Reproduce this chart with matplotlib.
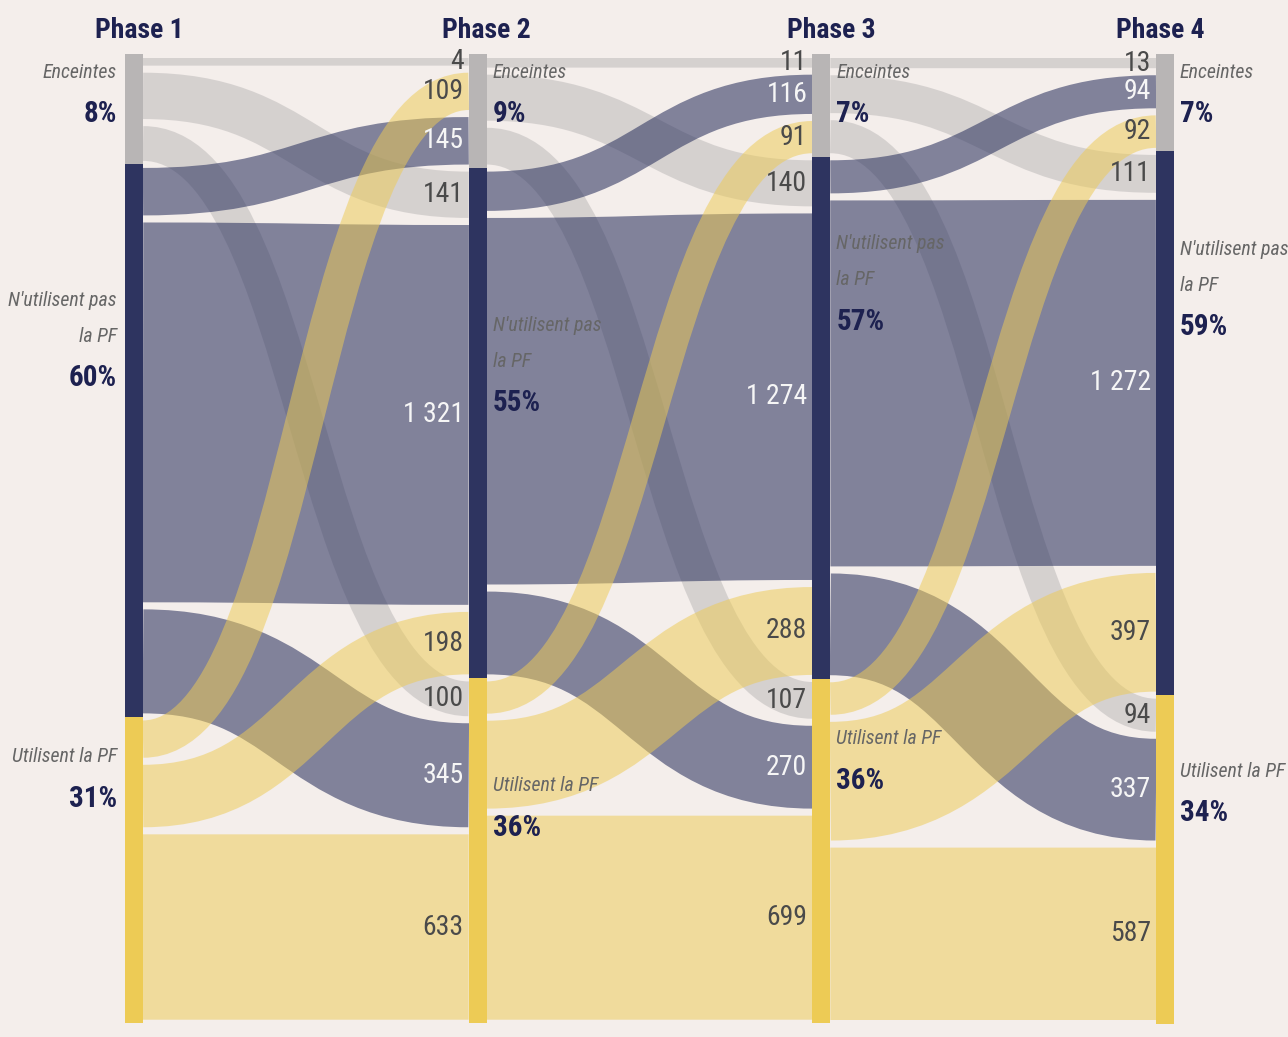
import matplotlib
matplotlib.use("Agg")
import matplotlib.pyplot as plt
import matplotlib.transforms as mtransforms
from matplotlib.path import Path
from matplotlib.patches import PathPatch, Rectangle
from matplotlib import font_manager

# ---------------- data ----------------
phases = ["Phase 1", "Phase 2", "Phase 3", "Phase 4"]
category_names = ["Enceintes", "N'utilisent pas\nla PF", "Utilisent la PF"]
# flows between consecutive phases: rows = source category, cols = target category
flows_p1_p2 = [[4, 141, 100],
               [145, 1321, 345],
               [109, 198, 633]]
flows_p2_p3 = [[11, 140, 107],
               [116, 1274, 270],
               [91, 288, 699]]
flows_p3_p4 = [[13, 111, 94],
               [94, 1272, 337],
               [92, 397, 587]]
percent_p1 = ["8%", "60%", "31%"]
percent_p2 = ["9%", "55%", "36%"]
percent_p3 = ["7%", "57%", "36%"]
percent_p4 = ["7%", "59%", "34%"]
# order (by source category) in which incoming flows are stacked at each target node
incoming_order_p2 = [[0, 2, 1], [0, 1, 2], [0, 1, 2]]
incoming_order_p3 = [[0, 1, 2], [0, 1, 2], [0, 1, 2]]
incoming_order_p4 = [[0, 1, 2], [0, 1, 2], [0, 1, 2]]

# ---------------- style / layout ----------------
BG = "#F4EEEB"
NODE_COLORS = ["#B8B5B5", "#2E3460", "#EDCB55"]
LINK_ALPHA = [0.50, 0.58, 0.52]
LABEL_COLORS = ["#4a4a4a", "#F6F6F6", "#4a4a4a"]
NAVY_TEXT = "#1D2150"
NAME_GREY = "#666666"

FIG_W, FIG_H, DPI = 1288, 1037, 100
TOP_PX, BOTTOM_PX = 58, 1020
X0_PX, DX_PX = 134, 343.67
BAR_PX = 18
LINK_PAD = 23   # extra thickness per link (value units)
GAP = 25        # gap between stacked links (value units)
# vertical position (px below node top) of the first name line, per phase / node
LABEL_OFFSETS = [[18, 136, 40], [18, 157, 108], [18, 87, 60], [18, 98, 76]]
TITLE_SHIFT_PX = [5, 9, 10, -5]
LINE_PX, PCT_PX = 36, 42


def available(name):
    try:
        font_manager.findfont(font_manager.FontProperties(family=name),
                              fallback_to_default=False)
        return True
    except Exception:
        return False


names = sorted({f.name for f in font_manager.fontManager.ttflist})
narrow = [n for n in names if ("Narrow" in n or "Condensed" in n)]
FONT, SCALE = "Roboto", 0.87
for pref in ["Roboto Condensed", "Liberation Sans Narrow", "Open Sans Condensed",
             "Noto Sans Condensed", "DejaVu Sans Condensed"] + narrow:
    if pref in names and available(pref):
        FONT, SCALE = pref, 1.0
        break
plt.rcParams["font.family"] = [FONT, "DejaVu Sans"]

transitions = [flows_p1_p2, flows_p2_p3, flows_p3_p4]
orders = [incoming_order_p2, incoming_order_p3, incoming_order_p4]
percents = [percent_p1, percent_p2, percent_p3, percent_p4]


def stack(keys, F):
    pos, y = {}, 0.0
    for (i, j) in keys:
        w = F[i][j] + LINK_PAD
        pos[(i, j)] = (y, y + w)
        y += w + GAP
    return pos, y - GAP


src_stacks, tgt_stacks = [], []
H = 0
for t, F in enumerate(transitions):
    sk = [(i, j) for i in range(3) for j in range(3)]
    tk = [(i, j) for j in range(3) for i in orders[t][j]]
    sp, hs = stack(sk, F)
    tp, ht = stack(tk, F)
    src_stacks.append(sp)
    tgt_stacks.append(tp)
    H = max(H, hs, ht)

ppu = (BOTTOM_PX - TOP_PX) / H           # pixels per value unit
px2u = 1.0 / ppu
bw = BAR_PX / DX_PX                       # bar width in x units

fig = plt.figure(figsize=(FIG_W / DPI, FIG_H / DPI), dpi=DPI, facecolor=BG)
ax = fig.add_axes([0, 0, 1, 1])
ax.set_facecolor(BG)
ax.set_xlim(-X0_PX / DX_PX, (FIG_W - X0_PX) / DX_PX)
ax.set_ylim(H + (FIG_H - BOTTOM_PX) * px2u, -TOP_PX * px2u)
ax.axis("off")

# ---------------- links ----------------
for t, F in enumerate(transitions):
    x0, x1 = t + bw / 2, t + 1 - bw / 2
    xm = (x0 + x1) / 2
    for i in range(3):
        for j in range(3):
            v = F[i][j]
            s0, s1 = src_stacks[t][(i, j)]
            t0, t1 = tgt_stacks[t][(i, j)]
            ys, yt = (s0 + s1) / 2, (t0 + t1) / 2
            path = Path([(x0, ys), (xm, ys), (xm, yt), (x1, yt)],
                        [Path.MOVETO, Path.CURVE4, Path.CURVE4, Path.CURVE4])
            lw = (v + LINK_PAD) * ppu * 72.0 / DPI
            ax.add_patch(PathPatch(path, fill=False, lw=lw, edgecolor=NODE_COLORS[i],
                                   alpha=LINK_ALPHA[i], capstyle="butt", zorder=2))
            ax.text(x1 - 5 / DX_PX, yt, f"{v:,}".replace(",", " "), ha="right",
                    va="center", fontsize=20 * SCALE, color=LABEL_COLORS[i], zorder=5)


# ---------------- nodes ----------------
def node_extent(p, c):
    exts = []
    if p < 3:
        ys = [v for (i, j), v in src_stacks[p].items() if i == c]
        exts.append((min(a for a, b in ys), max(b for a, b in ys)))
    if p > 0:
        ys = [v for (i, j), v in tgt_stacks[p - 1].items() if j == c]
        exts.append((min(a for a, b in ys), max(b for a, b in ys)))
    top = sum(e[0] for e in exts) / len(exts) - GAP / 2
    bot = sum(e[1] for e in exts) / len(exts) + GAP / 2
    return top, bot


tx = mtransforms.blended_transform_factory(ax.transData, ax.transAxes)
for p in range(4):
    ax.text(p + TITLE_SHIFT_PX[p] / DX_PX, 1 - 30 / FIG_H, phases[p], transform=tx,
            ha="center", va="center", fontsize=20 * SCALE, fontweight="bold",
            color=NAVY_TEXT)
    for c in range(3):
        top, bot = node_extent(p, c)
        ax.add_patch(Rectangle((p - bw / 2, top), bw, bot - top, facecolor=NODE_COLORS[c],
                               edgecolor="none", zorder=4))
        if p == 0:
            lx, ha = p - bw / 2 - 8 / DX_PX, "right"
        else:
            lx, ha = p + bw / 2 + 6 / DX_PX, "left"
        y = top + LABEL_OFFSETS[p][c] * px2u
        lines = category_names[c].split("\n")
        for k, line in enumerate(lines):
            ax.text(lx, y + k * LINE_PX * px2u, line, ha=ha, va="center",
                    fontsize=14.3 * SCALE, style="italic", color=NAME_GREY, zorder=6)
        ax.text(lx, y + ((len(lines) - 1) * LINE_PX + PCT_PX) * px2u, percents[p][c],
                ha=ha, va="center", fontsize=21 * SCALE, fontweight="bold",
                color=NAVY_TEXT, zorder=6)

fig.savefig("out.png", dpi=DPI, facecolor=BG)
